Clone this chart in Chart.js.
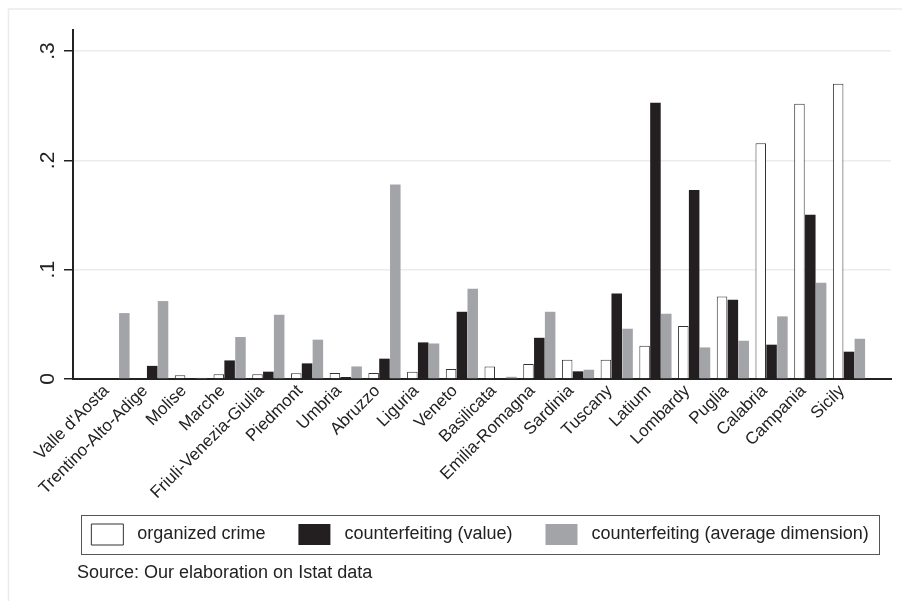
<!DOCTYPE html>
<html>
<head>
<meta charset="utf-8">
<script src="https://cdn.jsdelivr.net/npm/chart.js@4.4.0/dist/chart.umd.min.js"></script>
<style>
    html, body { margin: 0; padding: 0; background: #ffffff; }
    canvas { display: block; }
</style>
</head>
<body>
<canvas id="grafico" width="902" height="601"></canvas>
<script>
// Dati (quota per regione)
const regioni = ["Valle d'Aosta", "Trentino-Alto-Adige", "Molise", "Marche", "Friuli-Venezia-Giulia",
    "Piedmont", "Umbria", "Abruzzo", "Liguria", "Veneto", "Basilicata", "Emilia-Romagna",
    "Sardinia", "Tuscany", "Latium", "Lombardy", "Puglia", "Calabria", "Campania", "Sicily"];
const crimineOrganizzato = [0, 0, 0.0035, 0.0043, 0.0043, 0.0052, 0.0055, 0.0055, 0.0067, 0.0091,
    0.0115, 0.0137, 0.0176, 0.0176, 0.0304, 0.0484, 0.0755, 0.2157, 0.2519, 0.2702];
const contraffValore = [0, 0.012, 0, 0.017, 0.0067, 0.0143, 0.0018, 0.0186, 0.0335, 0.0615,
    0, 0.0377, 0.007, 0.0782, 0.2528, 0.173, 0.0725, 0.0314, 0.1502, 0.025];
const contraffDimensione = [0.0603, 0.0713, 0.001, 0.0384, 0.0588, 0.036, 0.0115, 0.178, 0.0325, 0.0825,
    0.002, 0.0615, 0.0085, 0.046, 0.0597, 0.0289, 0.035, 0.0573, 0.088, 0.0368];
const serieNomi = ["organized crime", "counterfeiting (value)", "counterfeiting (average dimension)"];
const yTicks = [0, 0.1, 0.2, 0.3];
const yTickLabels = ["0", ".1", ".2", ".3"];
const fonte = "Source: Our elaboration on Istat data";

const punti = arr => arr.map((v, i) => ({ x: i, y: v }));
const testo = '#222222';
const famiglia = '"Liberation Sans", Arial, sans-serif';

// cornice esterna, etichette verticali dell'asse y, riquadro della legenda
const extra = {
    id: 'extra',
    afterLayout(chart) {
        const lg = chart.legend;
        const h = lg.bottom - lg.top;
        lg.top = 491; lg.bottom = lg.top + h;
        lg.left += 34.5; lg.right += 34.5;
        const t = chart.titleBlock;
        const th = t.bottom - t.top;
        t.top = 562; t.bottom = t.top + th;
        t.left = 77; t.right = 900;
    },
    beforeDraw(chart) {
        const ctx = chart.ctx;
        ctx.save();
        ctx.strokeStyle = '#ececec';
        ctx.lineWidth = 1.5;
        ctx.beginPath();
        ctx.moveTo(8.5, 601);
        ctx.lineTo(8.5, 9);
        ctx.lineTo(902, 9);
        ctx.stroke();
        ctx.restore();
    },
    afterDraw(chart) {
        const ctx = chart.ctx;
        const y = chart.scales.y;
        ctx.save();
        ctx.fillStyle = testo;
        ctx.font = '21px ' + famiglia;
        ctx.textAlign = 'center';
        ctx.textBaseline = 'middle';
        yTicks.forEach((v, i) => {
            ctx.save();
            ctx.translate(48, y.getPixelForValue(v));
            ctx.rotate(-Math.PI / 2);
            ctx.fillText(yTickLabels[i], 0, 0);
            ctx.restore();
        });
        const hb = chart.legend.legendHitBoxes;
        if (hb && hb.length) {
            const first = hb[0], last = hb[hb.length - 1];
            ctx.strokeStyle = '#555555';
            ctx.lineWidth = 1;
            ctx.strokeRect(Math.round(first.left - 10) + 0.5, Math.round(first.top - 9) + 0.5,
                Math.round(last.left + last.width + 11 - (first.left - 10)),
                Math.round(first.height + 18));
        }
        ctx.restore();
    }
};

new Chart(document.getElementById('grafico'), {
    type: 'bar',
    data: {
        datasets: [{
            label: serieNomi[0],
            data: punti(crimineOrganizzato),
            backgroundColor: '#ffffff',
            borderColor: '#333333',
            borderWidth: 1
        }, {
            label: serieNomi[1],
            data: punti(contraffValore),
            backgroundColor: '#231f20',
            borderColor: '#231f20',
            borderWidth: 0
        }, {
            label: serieNomi[2],
            data: punti(contraffDimensione),
            backgroundColor: '#a3a4a7',
            borderColor: '#a3a4a7',
            borderWidth: 0
        }]
    },
    options: {
        responsive: false,
        animation: false,
        devicePixelRatio: 1,
        categoryPercentage: 0.84,
        barPercentage: 0.97,
        layout: { padding: { top: 30, right: 11, left: 0, bottom: 0 } },
        plugins: {
            tooltip: { enabled: false },
            legend: {
                position: 'bottom',
                align: 'center',
                labels: {
                    boxWidth: 32,
                    boxHeight: 21,
                    padding: 33,
                    color: testo,
                    font: { family: famiglia, size: 18 },
                    // uno spazio in più tra il quadratino e il testo
                    generateLabels: chart => Chart.defaults.plugins.legend.labels.generateLabels(chart)
                        .map(item => ({ ...item, text: ' ' + item.text }))
                }
            },
            title: {
                display: true,
                text: fonte,
                position: 'bottom',
                align: 'start',
                color: testo,
                padding: 0,
                font: { family: famiglia, size: 18, weight: 'normal' }
            }
        },
        scales: {
            x: {
                type: 'linear',
                offset: false,
                min: -1.046,
                max: 20.085,
                afterBuildTicks: axis => { axis.ticks = regioni.map((r, i) => ({ value: i })); },
                afterFit: axis => { axis.height = 136.4; },
                grid: { display: false, drawTicks: false, offset: false },
                border: { display: true, color: '#222222', width: 2 },
                ticks: {
                    autoSkip: false,
                    minRotation: 45,
                    maxRotation: 45,
                    padding: 2,
                    labelOffset: -7,
                    color: testo,
                    font: { family: famiglia, size: 17 },
                    callback: v => regioni[v]
                }
            },
            y: {
                min: 0,
                max: 0.3193,
                afterBuildTicks: axis => { axis.ticks = yTicks.map(v => ({ value: v })); },
                afterFit: axis => { axis.width = 73; },
                grid: { color: '#ececec', lineWidth: 1.5, tickColor: '#222222', tickLength: 9, tickWidth: 1.5 },
                border: { display: true, color: '#222222', width: 2 },
                ticks: { display: false }
            }
        }
    },
    plugins: [extra]
});
</script>
</body>
</html>
